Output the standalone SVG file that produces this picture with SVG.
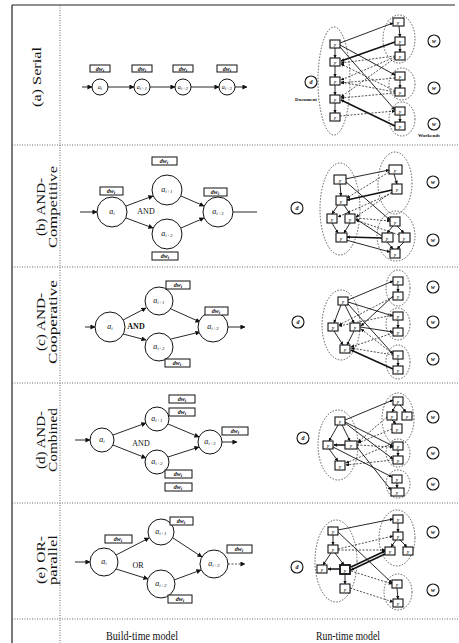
<svg xmlns="http://www.w3.org/2000/svg" width="459" height="643" viewBox="0 0 459 643">
<style>
text{font-family:"Liberation Serif","DejaVu Serif",serif;fill:#111}
.frame{stroke:#222;stroke-width:1.2;fill:none}
.sep{stroke:#444;stroke-width:0.8;stroke-dasharray:1 1.5;fill:none}
.rl{font-size:12px}
.ft{font-size:13px}
.n{fill:#fff;stroke:#111;stroke-width:1}
.dwb{fill:#fff;stroke:#111;stroke-width:1}
.dwt{font-size:6px;font-style:italic;font-weight:bold}
.cl{font-size:8px;font-style:italic}
.cls{font-size:6px;font-style:italic}
.sub{font-size:5px}
.gl{font-size:8px}
.c{stroke:#111;stroke-width:0.9;fill:none}
.cb{stroke:#111;stroke-width:1.5;fill:none}
.cd{stroke:#222;stroke-width:0.8;stroke-dasharray:2 1.5;fill:none}
.ell{fill:none;stroke:#333;stroke-width:0.8;stroke-dasharray:1.5 1.5}
.rb{fill:#fff;stroke:#111;stroke-width:1.1}
.rbb{fill:#fff;stroke:#111;stroke-width:1.8}
.yt{font-size:5px;font-style:italic;font-weight:bold}
.wc{fill:#fff;stroke:#111;stroke-width:1.1}
.wt{font-size:6px;font-style:italic;font-weight:bold}
.sm{font-size:5px;font-weight:bold}
</style>
<defs>
<marker id="ah" viewBox="0 0 6 6" refX="5.5" refY="3" markerWidth="5" markerHeight="5" orient="auto" markerUnits="userSpaceOnUse"><path d="M0,0 L6,3 L0,6 z" fill="#111"/></marker>
<marker id="as" viewBox="0 0 6 6" refX="5.5" refY="3" markerWidth="3.5" markerHeight="3.5" orient="auto" markerUnits="userSpaceOnUse"><path d="M0,0 L6,3 L0,6 z" fill="#111"/></marker>
</defs>
<rect x="0" y="0" width="459" height="643" fill="#fff"/>

<g id="frame">
<line class="frame" x1="12" y1="5" x2="12" y2="643"/>
<line class="frame" x1="12" y1="5" x2="455" y2="5"/>
<line class="sep" x1="60" y1="5" x2="60" y2="643"/>
<line class="sep" x1="12" y1="145" x2="459" y2="145"/>
<line class="sep" x1="12" y1="267" x2="459" y2="267"/>
<line class="sep" x1="12" y1="383" x2="459" y2="383"/>
<line class="sep" x1="12" y1="503" x2="459" y2="503"/>
<line class="sep" x1="12" y1="619" x2="459" y2="619"/>
</g>

<g id="row-labels">
<text class="rl" transform="translate(41,77) rotate(-90)" text-anchor="middle" textLength="60" lengthAdjust="spacingAndGlyphs">(a) Serial</text>
<text class="rl" transform="translate(45,207) rotate(-90)" text-anchor="middle" textLength="58" lengthAdjust="spacingAndGlyphs">(b) AND-</text>
<text class="rl" transform="translate(57,207) rotate(-90)" text-anchor="middle" textLength="82" lengthAdjust="spacingAndGlyphs">Competitive</text>
<text class="rl" transform="translate(45,322) rotate(-90)" text-anchor="middle" textLength="58" lengthAdjust="spacingAndGlyphs">(c) AND-</text>
<text class="rl" transform="translate(57,322) rotate(-90)" text-anchor="middle" textLength="84" lengthAdjust="spacingAndGlyphs">Cooperative</text>
<text class="rl" transform="translate(45,440) rotate(-90)" text-anchor="middle" textLength="58" lengthAdjust="spacingAndGlyphs">(d) AND-</text>
<text class="rl" transform="translate(57,440) rotate(-90)" text-anchor="middle" textLength="64" lengthAdjust="spacingAndGlyphs">Combined</text>
<text class="rl" transform="translate(45,560) rotate(-90)" text-anchor="middle" textLength="48" lengthAdjust="spacingAndGlyphs">(e) OR-</text>
<text class="rl" transform="translate(57,560) rotate(-90)" text-anchor="middle" textLength="50" lengthAdjust="spacingAndGlyphs">parallel</text>
</g>

<g id="footer">
<text class="ft" x="142" y="640" text-anchor="middle" textLength="72" lengthAdjust="spacingAndGlyphs">Build-time model</text>
<text class="ft" x="348" y="640" text-anchor="middle" textLength="64" lengthAdjust="spacingAndGlyphs">Run-time model</text>
</g>

<g id="connectors">
<!-- row a build -->
<line class="c" x1="82" y1="87" x2="92" y2="87" marker-end="url(#ah)"/>
<line class="c" x1="108" y1="87" x2="134" y2="87" marker-end="url(#ah)"/>
<line class="c" x1="150" y1="87" x2="175" y2="87" marker-end="url(#ah)"/>
<line class="c" x1="191" y1="87" x2="219" y2="87" marker-end="url(#ah)"/>
<line class="c" x1="235" y1="87" x2="247" y2="87" marker-end="url(#ah)"/>
<!-- row b build -->
<line class="c" x1="80" y1="212" x2="97" y2="212" marker-end="url(#ah)"/>
<line class="c" x1="126" y1="206" x2="153" y2="196" marker-end="url(#ah)"/>
<line class="c" x1="126" y1="218" x2="153" y2="228" marker-end="url(#ah)"/>
<line class="c" x1="181" y1="196" x2="204" y2="206" marker-end="url(#ah)"/>
<line class="c" x1="181" y1="228" x2="204" y2="218" marker-end="url(#ah)"/>
<line class="c" x1="233" y1="212" x2="257" y2="212"/>
<!-- row c build -->
<line class="c" x1="85" y1="327" x2="95" y2="327" marker-end="url(#ah)"/>
<line class="c" x1="123" y1="320" x2="146" y2="308" marker-end="url(#ah)"/>
<line class="c" x1="123" y1="334" x2="146" y2="340" marker-end="url(#ah)"/>
<line class="c" x1="171" y1="309" x2="200" y2="322" marker-end="url(#ah)"/>
<line class="c" x1="171" y1="339" x2="200" y2="332" marker-end="url(#ah)"/>
<line class="c" x1="228" y1="327" x2="245" y2="327" marker-end="url(#ah)"/>
<!-- row d build -->
<line class="c" x1="75" y1="440" x2="90" y2="440" marker-end="url(#ah)"/>
<line class="c" x1="113" y1="435" x2="146" y2="423" marker-end="url(#ah)"/>
<line class="c" x1="113" y1="445" x2="146" y2="458" marker-end="url(#ah)"/>
<line class="c" x1="168" y1="424" x2="199" y2="437" marker-end="url(#ah)"/>
<line class="c" x1="168" y1="457" x2="199" y2="447" marker-end="url(#ah)"/>
<line class="c" x1="222" y1="442" x2="237" y2="442" marker-end="url(#ah)"/>
<!-- row e build -->
<line class="c" x1="75" y1="562" x2="90" y2="562" marker-end="url(#ah)"/>
<line class="c" x1="116" y1="555" x2="149" y2="538" marker-end="url(#ah)"/>
<line class="c" x1="116" y1="569" x2="148" y2="579" marker-end="url(#ah)"/>
<line class="c" x1="173" y1="538" x2="202" y2="557" marker-end="url(#ah)"/>
<line class="c" x1="174" y1="580" x2="201" y2="570" marker-end="url(#ah)"/>
<line class="cd" x1="228" y1="564" x2="245" y2="564" marker-end="url(#ah)"/>

<!-- row a runtime -->
<line class="c" x1="335" y1="48" x2="335" y2="58" marker-end="url(#as)"/>
<line class="c" x1="335" y1="66" x2="335" y2="77" marker-end="url(#as)"/>
<line class="c" x1="335" y1="85" x2="335" y2="95" marker-end="url(#as)"/>
<line class="c" x1="335" y1="103" x2="335" y2="113" marker-end="url(#as)"/>
<line class="c" x1="399" y1="26" x2="400" y2="37" marker-end="url(#as)"/>
<line class="c" x1="400" y1="45" x2="400" y2="52" marker-end="url(#as)"/>
<line class="c" x1="400" y1="80" x2="400" y2="88" marker-end="url(#as)"/>
<line class="c" x1="400" y1="115" x2="400" y2="122" marker-end="url(#as)"/>
<line class="c" x1="340" y1="43" x2="393" y2="23" marker-end="url(#as)"/>
<line class="c" x1="340" y1="45" x2="395" y2="75" marker-end="url(#as)"/>
<line class="c" x1="340" y1="47" x2="395" y2="110" marker-end="url(#as)"/>
<line class="cb" x1="395" y1="42" x2="341" y2="61" marker-end="url(#as)"/>
<line class="cb" x1="395" y1="126" x2="341" y2="100" marker-end="url(#as)"/>
<line class="cd" x1="395" y1="56" x2="341" y2="63" marker-end="url(#as)"/>
<line class="cd" x1="395" y1="57" x2="341" y2="80" marker-end="url(#as)"/>
<line class="cd" x1="395" y1="58" x2="341" y2="97" marker-end="url(#as)"/>
<line class="cd" x1="395" y1="92" x2="341" y2="82" marker-end="url(#as)"/>
<line class="cd" x1="395" y1="93" x2="341" y2="98" marker-end="url(#as)"/>
<line class="cd" x1="395" y1="91" x2="341" y2="64" marker-end="url(#as)"/>
<line class="cd" x1="340" y1="116" x2="395" y2="111" marker-end="url(#as)"/>
<line class="cd" x1="395" y1="78" x2="341" y2="83" marker-end="url(#as)"/>

<!-- row b runtime -->
<line class="c" x1="340" y1="184" x2="341" y2="196" marker-end="url(#as)"/>
<line class="c" x1="338" y1="205" x2="332" y2="214" marker-end="url(#as)"/>
<line class="c" x1="344" y1="205" x2="350" y2="214" marker-end="url(#as)"/>
<line class="c" x1="332" y1="223" x2="338" y2="233" marker-end="url(#as)"/>
<line class="c" x1="350" y1="223" x2="344" y2="233" marker-end="url(#as)"/>
<line class="c" x1="394" y1="174" x2="397" y2="184" marker-end="url(#as)"/>
<line class="c" x1="393" y1="226" x2="387" y2="233" marker-end="url(#as)"/>
<line class="c" x1="397" y1="226" x2="404" y2="233" marker-end="url(#as)"/>
<line class="c" x1="387" y1="242" x2="393" y2="249" marker-end="url(#as)"/>
<line class="c" x1="404" y1="242" x2="397" y2="249" marker-end="url(#as)"/>
<line class="c" x1="345" y1="179" x2="389" y2="170" marker-end="url(#as)"/>
<line class="cb" x1="392" y1="190" x2="347" y2="200" marker-end="url(#as)"/>
<line class="c" x1="345" y1="181" x2="390" y2="220" marker-end="url(#as)"/>
<line class="cb" x1="382" y1="238" x2="347" y2="237" marker-end="url(#as)"/>
<line class="c" x1="346" y1="240" x2="390" y2="252" marker-end="url(#as)"/>
<line class="c" x1="382" y1="236" x2="356" y2="219" marker-end="url(#as)"/>
<line class="cd" x1="392" y1="192" x2="356" y2="217" marker-end="url(#as)"/>
<line class="cd" x1="392" y1="193" x2="338" y2="217" marker-end="url(#as)"/>
<line class="cd" x1="356" y1="218" x2="390" y2="221" marker-end="url(#as)"/>
<line class="cd" x1="399" y1="235" x2="356" y2="220" marker-end="url(#as)"/>
<line class="cd" x1="389" y1="172" x2="347" y2="198" marker-end="url(#as)"/>

<!-- row c runtime -->
<line class="c" x1="341" y1="305" x2="334" y2="323" marker-end="url(#as)"/>
<line class="c" x1="345" y1="305" x2="354" y2="323" marker-end="url(#as)"/>
<line class="c" x1="334" y1="331" x2="343" y2="345" marker-end="url(#as)"/>
<line class="c" x1="354" y1="331" x2="347" y2="345" marker-end="url(#as)"/>
<line class="c" x1="398" y1="285" x2="398" y2="292" marker-end="url(#as)"/>
<line class="c" x1="398" y1="320" x2="398" y2="328" marker-end="url(#as)"/>
<line class="c" x1="398" y1="359" x2="398" y2="366" marker-end="url(#as)"/>
<line class="c" x1="348" y1="300" x2="393" y2="281" marker-end="url(#as)"/>
<line class="c" x1="348" y1="302" x2="393" y2="316" marker-end="url(#as)"/>
<line class="c" x1="348" y1="304" x2="393" y2="354" marker-end="url(#as)"/>
<line class="cb" x1="393" y1="369" x2="351" y2="350" marker-end="url(#as)"/>
<line class="c" x1="393" y1="296" x2="361" y2="326" marker-end="url(#as)"/>
<line class="c" x1="360" y1="327" x2="393" y2="332" marker-end="url(#as)"/>
<line class="cd" x1="393" y1="315" x2="339" y2="326" marker-end="url(#as)"/>
<line class="cd" x1="393" y1="354" x2="361" y2="329" marker-end="url(#as)"/>
<line class="cd" x1="393" y1="297" x2="339" y2="325" marker-end="url(#as)"/>
<line class="cd" x1="393" y1="355" x2="351" y2="348" marker-end="url(#as)"/>
<line class="cd" x1="393" y1="333" x2="351" y2="347" marker-end="url(#as)"/>

<!-- row d runtime -->
<line class="c" x1="338" y1="425" x2="329" y2="441" marker-end="url(#as)"/>
<line class="c" x1="342" y1="425" x2="350" y2="441" marker-end="url(#as)"/>
<line class="cb" x1="345" y1="445" x2="334" y2="445" marker-end="url(#as)"/>
<line class="c" x1="329" y1="449" x2="338" y2="461" marker-end="url(#as)"/>
<line class="c" x1="396" y1="405" x2="392" y2="412" marker-end="url(#as)"/>
<line class="c" x1="400" y1="405" x2="406" y2="412" marker-end="url(#as)"/>
<line class="c" x1="392" y1="420" x2="396" y2="424" marker-end="url(#as)"/>
<line class="c" x1="398" y1="450" x2="398" y2="456" marker-end="url(#as)"/>
<line class="c" x1="397" y1="483" x2="397" y2="488" marker-end="url(#as)"/>
<line class="c" x1="345" y1="420" x2="393" y2="400" marker-end="url(#as)"/>
<line class="c" x1="345" y1="422" x2="393" y2="446" marker-end="url(#as)"/>
<line class="c" x1="345" y1="423" x2="393" y2="459" marker-end="url(#as)"/>
<line class="c" x1="333" y1="447" x2="392" y2="477" marker-end="url(#as)"/>
<line class="c" x1="357" y1="447" x2="391" y2="490" marker-end="url(#as)"/>
<line class="cd" x1="392" y1="429" x2="358" y2="443" marker-end="url(#as)"/>
<line class="cd" x1="387" y1="417" x2="358" y2="442" marker-end="url(#as)"/>
<line class="cd" x1="393" y1="460" x2="346" y2="465" marker-end="url(#as)"/>
<line class="cd" x1="357" y1="445" x2="393" y2="447" marker-end="url(#as)"/>
<line class="cd" x1="393" y1="443" x2="346" y2="463" marker-end="url(#as)"/>

<!-- row e runtime -->
<line class="c" x1="333" y1="535" x2="333" y2="545" marker-end="url(#as)"/>
<line class="c" x1="331" y1="553" x2="323" y2="565" marker-end="url(#as)"/>
<line class="c" x1="335" y1="553" x2="344" y2="565" marker-end="url(#as)"/>
<line class="cb" x1="340" y1="569" x2="328" y2="569" marker-end="url(#as)"/>
<line class="c" x1="345" y1="574" x2="345" y2="584" marker-end="url(#as)"/>
<line class="c" x1="398" y1="523" x2="398" y2="532" marker-end="url(#as)"/>
<line class="c" x1="396" y1="540" x2="391" y2="547" marker-end="url(#as)"/>
<line class="c" x1="400" y1="540" x2="407" y2="547" marker-end="url(#as)"/>
<line class="c" x1="397" y1="588" x2="398" y2="599" marker-end="url(#as)"/>
<line class="c" x1="338" y1="530" x2="393" y2="519" marker-end="url(#as)"/>
<line class="c" x1="338" y1="532" x2="392" y2="583" marker-end="url(#as)"/>
<line class="cb" x1="351" y1="567" x2="385" y2="551" marker-end="url(#as)"/>
<line class="cb" x1="385" y1="554" x2="351" y2="570" marker-end="url(#as)"/>
<line class="cd" x1="338" y1="549" x2="393" y2="536" marker-end="url(#as)"/>
<line class="cd" x1="351" y1="571" x2="392" y2="584" marker-end="url(#as)"/>
<line class="cd" x1="350" y1="588" x2="393" y2="602" marker-end="url(#as)"/>
<line class="cd" x1="338" y1="550" x2="385" y2="550" marker-end="url(#as)"/>
</g>

<!-- ===== row a build ===== -->
<g id="a-n1"><rect class="dwb" x="90" y="65" width="20" height="7"/><text class="dwt" x="100" y="70.5" text-anchor="middle">dw<tspan class="sub" dy="1">i</tspan></text><circle class="n" cx="100" cy="87" r="8"/><text class="cls" x="100" y="89" text-anchor="middle">a<tspan class="sub" dy="1">i</tspan></text></g>
<g id="a-n2"><rect class="dwb" x="132" y="65" width="20" height="7"/><text class="dwt" x="142" y="70.5" text-anchor="middle">dw<tspan class="sub" dy="1">i</tspan></text><circle class="n" cx="142" cy="87" r="8"/><text class="cls" x="142" y="89" text-anchor="middle">a<tspan class="sub" dy="1">i+1</tspan></text></g>
<g id="a-n3"><rect class="dwb" x="173" y="65" width="20" height="7"/><text class="dwt" x="183" y="70.5" text-anchor="middle">dw<tspan class="sub" dy="1">i</tspan></text><circle class="n" cx="183" cy="87" r="8"/><text class="cls" x="183" y="89" text-anchor="middle">a<tspan class="sub" dy="1">i+2</tspan></text></g>
<g id="a-n4"><rect class="dwb" x="217" y="65" width="20" height="7"/><text class="dwt" x="227" y="70.5" text-anchor="middle">dw<tspan class="sub" dy="1">i</tspan></text><circle class="n" cx="227" cy="87" r="8"/><text class="cls" x="227" y="89" text-anchor="middle">a<tspan class="sub" dy="1">i+3</tspan></text></g>

<!-- ===== row b build ===== -->
<g id="b-n1"><rect class="dwb" x="100" y="187" width="23" height="8"/><text class="dwt" x="111" y="193" text-anchor="middle">dw<tspan class="sub" dy="1">i</tspan></text><circle class="n" cx="112" cy="212" r="15"/><text class="cl" x="112" y="214" text-anchor="middle">a<tspan class="sub" dy="1">i</tspan></text></g>
<g id="b-n2"><rect class="dwb" x="152" y="157" width="25" height="8"/><text class="dwt" x="164" y="163" text-anchor="middle">dw<tspan class="sub" dy="1">i</tspan></text><circle class="n" cx="167" cy="190" r="15"/><text class="cl" x="167" y="192" text-anchor="middle">a<tspan class="sub" dy="1">i+1</tspan></text></g>
<g id="b-n3"><rect class="dwb" x="152" y="252" width="26" height="8"/><text class="dwt" x="165" y="258" text-anchor="middle">dw<tspan class="sub" dy="1">i</tspan></text><circle class="n" cx="167" cy="234" r="15"/><text class="cl" x="167" y="236" text-anchor="middle">a<tspan class="sub" dy="1">i+2</tspan></text></g>
<g id="b-n4"><rect class="dwb" x="204" y="188" width="23" height="8"/><text class="dwt" x="215" y="194" text-anchor="middle">dw<tspan class="sub" dy="1">i</tspan></text><circle class="n" cx="218" cy="212" r="15"/><text class="cl" x="218" y="214" text-anchor="middle">a<tspan class="sub" dy="1">i+3</tspan></text></g>
<g id="b-and"><text class="gl" x="146" y="214" text-anchor="middle">AND</text></g>

<!-- ===== row c build ===== -->
<g id="c-n1"><circle class="n" cx="110" cy="327" r="15"/><text class="cl" x="110" y="329" text-anchor="middle">a<tspan class="sub" dy="1">i</tspan></text></g>
<g id="c-n2"><circle class="n" cx="159" cy="301" r="14"/><rect class="dwb" x="166" y="281" width="24" height="8"/><text class="dwt" x="178" y="287" text-anchor="middle">dw<tspan class="sub" dy="1">i</tspan></text><text class="cl" x="159" y="303" text-anchor="middle">a<tspan class="sub" dy="1">i+1</tspan></text></g>
<g id="c-n3"><circle class="n" cx="159" cy="347" r="14"/><rect class="dwb" x="165" y="359" width="25" height="8"/><text class="dwt" x="177" y="365" text-anchor="middle">dw<tspan class="sub" dy="1">i</tspan></text><text class="cl" x="159" y="349" text-anchor="middle">a<tspan class="sub" dy="1">i+2</tspan></text></g>
<g id="c-n4"><circle class="n" cx="213" cy="327" r="15"/><rect class="dwb" x="205" y="307" width="23" height="8"/><text class="dwt" x="216" y="313" text-anchor="middle">dw<tspan class="sub" dy="1">i</tspan></text><text class="cl" x="213" y="329" text-anchor="middle">a<tspan class="sub" dy="1">i+3</tspan></text></g>
<g id="c-and"><text class="gl" x="136" y="329" text-anchor="middle" font-weight="bold">AND</text></g>

<!-- ===== row d build ===== -->
<g id="d-n1"><circle class="n" cx="102" cy="440" r="12"/><text class="cl" x="102" y="442" text-anchor="middle">a<tspan class="sub" dy="1">i</tspan></text></g>
<g id="d-n2"><circle class="n" cx="157" cy="419" r="12"/><rect class="dwb" x="169" y="395" width="26" height="8"/><text class="dwt" x="182" y="401" text-anchor="middle">dw<tspan class="sub" dy="1">i</tspan></text><rect class="dwb" x="169" y="408" width="26" height="8"/><text class="dwt" x="182" y="414" text-anchor="middle">dw<tspan class="sub" dy="1">i</tspan></text><text class="cl" x="157" y="421" text-anchor="middle">a<tspan class="sub" dy="1">i+1</tspan></text></g>
<g id="d-n3"><circle class="n" cx="157" cy="462" r="12"/><rect class="dwb" x="165" y="470" width="27" height="8"/><text class="dwt" x="178" y="476" text-anchor="middle">dw<tspan class="sub" dy="1">i</tspan></text><rect class="dwb" x="165" y="483" width="27" height="8"/><text class="dwt" x="178" y="489" text-anchor="middle">dw<tspan class="sub" dy="1">i</tspan></text><text class="cl" x="157" y="464" text-anchor="middle">a<tspan class="sub" dy="1">i+2</tspan></text></g>
<g id="d-n4"><circle class="n" cx="210" cy="442" r="12"/><rect class="dwb" x="222" y="427" width="26" height="8"/><text class="dwt" x="235" y="433" text-anchor="middle">dw<tspan class="sub" dy="1">i</tspan></text><text class="cl" x="210" y="444" text-anchor="middle">a<tspan class="sub" dy="1">i+3</tspan></text></g>
<g id="d-and"><text class="gl" x="141" y="446" text-anchor="middle">AND</text></g>

<!-- ===== row e build ===== -->
<g id="e-n1"><rect class="dwb" x="105" y="535" width="27" height="8"/><text class="dwt" x="118" y="541" text-anchor="middle">dw<tspan class="sub" dy="1">i</tspan></text><circle class="n" cx="104" cy="562" r="14"/><text class="cl" x="104" y="564" text-anchor="middle">a<tspan class="sub" dy="1">i</tspan></text></g>
<g id="e-n2"><circle class="n" cx="161" cy="532" r="13"/><rect class="dwb" x="170" y="517" width="23" height="8"/><text class="dwt" x="181" y="523" text-anchor="middle">dw<tspan class="sub" dy="1">i</tspan></text><text class="cl" x="161" y="534" text-anchor="middle">a<tspan class="sub" dy="1">i+1</tspan></text></g>
<g id="e-n3"><circle class="n" cx="161" cy="584" r="14"/><rect class="dwb" x="168" y="595" width="24" height="8"/><text class="dwt" x="180" y="601" text-anchor="middle">dw<tspan class="sub" dy="1">i</tspan></text><text class="cl" x="161" y="586" text-anchor="middle">a<tspan class="sub" dy="1">i+2</tspan></text></g>
<g id="e-n4"><circle class="n" cx="214" cy="564" r="14"/><rect class="dwb" x="227" y="545" width="25" height="8"/><text class="dwt" x="239" y="551" text-anchor="middle">dw<tspan class="sub" dy="1">i</tspan></text><text class="cl" x="214" y="566" text-anchor="middle">a<tspan class="sub" dy="1">i+3</tspan></text></g>
<g id="e-or"><text class="gl" x="138" y="568" text-anchor="middle">OR</text></g>

<!-- ===== row a runtime ===== -->
<g id="ra-d"><circle class="wc" cx="311" cy="82" r="6"/><text class="wt" x="311" y="84" text-anchor="middle">d</text><text class="sm" x="306" y="101" text-anchor="middle">Document</text></g>
<g id="ra-left"><ellipse class="ell" cx="334" cy="81" rx="16" ry="54"/>
<rect class="rb" x="330" y="40" width="10" height="8"/><text class="yt" x="335" y="46" text-anchor="middle">y</text>
<rect class="rb" x="330" y="58" width="10" height="8"/><text class="yt" x="335" y="64" text-anchor="middle">y</text>
<rect class="rb" x="330" y="77" width="10" height="8"/><text class="yt" x="335" y="83" text-anchor="middle">y</text>
<rect class="rb" x="330" y="95" width="10" height="8"/><text class="yt" x="335" y="101" text-anchor="middle">y</text>
<rect class="rb" x="330" y="113" width="10" height="8"/><text class="yt" x="335" y="119" text-anchor="middle">y</text></g>
<g id="ra-g1"><ellipse class="ell" cx="399" cy="39" rx="16" ry="24"/>
<rect class="rb" x="393" y="18" width="11" height="8"/><text class="yt" x="398" y="24" text-anchor="middle">y</text>
<rect class="rb" x="395" y="37" width="10" height="8"/><text class="yt" x="400" y="43" text-anchor="middle">y</text>
<rect class="rb" x="395" y="52" width="10" height="8"/><text class="yt" x="400" y="58" text-anchor="middle">y</text></g>
<g id="ra-g2"><ellipse class="ell" cx="402" cy="84" rx="13" ry="16"/>
<rect class="rb" x="395" y="72" width="10" height="8"/><text class="yt" x="400" y="78" text-anchor="middle">y</text>
<rect class="rb" x="395" y="88" width="10" height="8"/><text class="yt" x="400" y="94" text-anchor="middle">y</text></g>
<g id="ra-g3"><ellipse class="ell" cx="402" cy="119" rx="13" ry="17"/>
<rect class="rb" x="395" y="107" width="10" height="8"/><text class="yt" x="400" y="113" text-anchor="middle">y</text>
<rect class="rb" x="395" y="122" width="10" height="8"/><text class="yt" x="400" y="128" text-anchor="middle">y</text></g>
<g id="ra-w"><circle class="wc" cx="434" cy="41" r="6"/><text class="wt" x="434" y="43" text-anchor="middle">w</text>
<circle class="wc" cx="434" cy="88" r="6"/><text class="wt" x="434" y="90" text-anchor="middle">w</text>
<circle class="wc" cx="434" cy="124" r="6"/><text class="wt" x="434" y="126" text-anchor="middle">w</text>
<text class="sm" x="429" y="137" text-anchor="middle">Workends</text></g>

<!-- ===== row b runtime ===== -->
<g id="rb-d"><circle class="wc" cx="297" cy="208" r="6"/><text class="wt" x="297" y="210" text-anchor="middle">d</text></g>
<g id="rb-left"><ellipse class="ell" cx="340" cy="209" rx="20" ry="46"/>
<rect class="rb" x="334" y="175" width="12" height="9"/><text class="yt" x="340" y="181.5" text-anchor="middle">y</text>
<rect class="rb" x="336" y="196" width="11" height="9"/><text class="yt" x="341" y="202.5" text-anchor="middle">y</text>
<rect class="rb" x="327" y="214" width="10" height="9"/><text class="yt" x="332" y="220.5" text-anchor="middle">y</text>
<rect class="rb" x="345" y="214" width="10" height="9"/><text class="yt" x="350" y="220.5" text-anchor="middle">y</text>
<rect class="rb" x="336" y="233" width="11" height="9"/><text class="yt" x="341" y="239.5" text-anchor="middle">y</text></g>
<g id="rb-g1"><ellipse class="ell" cx="395" cy="183" rx="17" ry="31"/>
<rect class="rb" x="389" y="165" width="13" height="9"/><text class="yt" x="395" y="171.5" text-anchor="middle">y</text>
<rect class="rb" x="392" y="184" width="10" height="10"/><text class="yt" x="397" y="191" text-anchor="middle">y</text></g>
<g id="rb-g2"><ellipse class="ell" cx="396" cy="236" rx="19" ry="25"/>
<rect class="rb" x="390" y="217" width="10" height="9"/><text class="yt" x="395" y="223.5" text-anchor="middle">y</text>
<rect class="rb" x="382" y="233" width="11" height="9"/><text class="yt" x="387" y="239.5" text-anchor="middle">y</text>
<rect class="rb" x="399" y="233" width="11" height="9"/><text class="yt" x="404" y="239.5" text-anchor="middle">y</text>
<rect class="rb" x="390" y="249" width="10" height="9"/><text class="yt" x="395" y="255.5" text-anchor="middle">y</text></g>
<g id="rb-w"><circle class="wc" cx="433" cy="182" r="6"/><text class="wt" x="433" y="184" text-anchor="middle">w</text>
<circle class="wc" cx="433" cy="240" r="6"/><text class="wt" x="433" y="242" text-anchor="middle">w</text></g>

<!-- ===== row c runtime ===== -->
<g id="rc-d"><circle class="wc" cx="298" cy="322" r="6"/><text class="wt" x="298" y="324" text-anchor="middle">d</text></g>
<g id="rc-left"><ellipse class="ell" cx="341" cy="325" rx="19" ry="35"/>
<rect class="rb" x="338" y="297" width="10" height="8"/><text class="yt" x="343" y="303" text-anchor="middle">y</text>
<rect class="rb" x="328" y="323" width="10" height="8"/><text class="yt" x="333" y="329" text-anchor="middle">y</text>
<rect class="rb" x="350" y="323" width="10" height="8"/><text class="yt" x="355" y="329" text-anchor="middle">y</text>
<rect class="rb" x="340" y="345" width="10" height="8"/><text class="yt" x="345" y="351" text-anchor="middle">y</text></g>
<g id="rc-g1"><ellipse class="ell" cx="398" cy="288" rx="12" ry="18"/>
<rect class="rb" x="393" y="277" width="10" height="8"/><text class="yt" x="398" y="283" text-anchor="middle">y</text>
<rect class="rb" x="393" y="292" width="10" height="8"/><text class="yt" x="398" y="298" text-anchor="middle">y</text></g>
<g id="rc-g2"><ellipse class="ell" cx="398" cy="324" rx="12" ry="16"/>
<rect class="rb" x="393" y="312" width="10" height="8"/><text class="yt" x="398" y="318" text-anchor="middle">y</text>
<rect class="rb" x="393" y="328" width="10" height="8"/><text class="yt" x="398" y="334" text-anchor="middle">y</text></g>
<g id="rc-g3"><ellipse class="ell" cx="398" cy="362" rx="12" ry="17"/>
<rect class="rb" x="393" y="351" width="10" height="8"/><text class="yt" x="398" y="357" text-anchor="middle">y</text>
<rect class="rb" x="393" y="366" width="10" height="8"/><text class="yt" x="398" y="372" text-anchor="middle">y</text></g>
<g id="rc-w"><circle class="wc" cx="433" cy="287" r="6"/><text class="wt" x="433" y="289" text-anchor="middle">w</text>
<circle class="wc" cx="433" cy="322" r="6"/><text class="wt" x="433" y="324" text-anchor="middle">w</text>
<circle class="wc" cx="433" cy="359" r="6"/><text class="wt" x="433" y="361" text-anchor="middle">w</text></g>

<!-- ===== row d runtime ===== -->
<g id="rd-d"><circle class="wc" cx="303" cy="438" r="6"/><text class="wt" x="303" y="440" text-anchor="middle">d</text></g>
<g id="rd-left"><ellipse class="ell" cx="338" cy="445" rx="20" ry="35"/>
<rect class="rb" x="335" y="417" width="10" height="8"/><text class="yt" x="340" y="423" text-anchor="middle">y</text>
<rect class="rb" x="323" y="441" width="10" height="8"/><text class="yt" x="328" y="447" text-anchor="middle">y</text>
<rect class="rb" x="345" y="441" width="12" height="8"/><text class="yt" x="351" y="447" text-anchor="middle">y</text>
<rect class="rb" x="335" y="461" width="10" height="9"/><text class="yt" x="340" y="467.5" text-anchor="middle">y</text></g>
<g id="rd-g1"><ellipse class="ell" cx="398" cy="419" rx="16" ry="26"/>
<rect class="rb" x="393" y="397" width="10" height="8"/><text class="yt" x="398" y="403" text-anchor="middle">y</text>
<rect class="rb" x="387" y="412" width="10" height="8"/><text class="yt" x="392" y="418" text-anchor="middle">y</text>
<rect class="rb" x="402" y="412" width="10" height="8"/><text class="yt" x="407" y="418" text-anchor="middle">y</text>
<rect class="rb" x="392" y="424" width="10" height="9"/><text class="yt" x="397" y="430.5" text-anchor="middle">y</text></g>
<g id="rd-g2"><ellipse class="ell" cx="398" cy="453" rx="12" ry="14"/>
<rect class="rb" x="393" y="442" width="10" height="8"/><text class="yt" x="398" y="448" text-anchor="middle">y</text>
<rect class="rb" x="393" y="456" width="10" height="8"/><text class="yt" x="398" y="462" text-anchor="middle">y</text></g>
<g id="rd-g3"><ellipse class="ell" cx="398" cy="484" rx="12" ry="14"/>
<rect class="rb" x="392" y="475" width="10" height="8"/><text class="yt" x="397" y="481" text-anchor="middle">y</text>
<rect class="rb" x="391" y="488" width="13" height="8"/><text class="yt" x="397" y="494" text-anchor="middle">y</text></g>
<g id="rd-w"><circle class="wc" cx="433" cy="417" r="6"/><text class="wt" x="433" y="419" text-anchor="middle">w</text>
<circle class="wc" cx="433" cy="453" r="6"/><text class="wt" x="433" y="455" text-anchor="middle">w</text>
<circle class="wc" cx="433" cy="484" r="6"/><text class="wt" x="433" y="486" text-anchor="middle">w</text></g>

<!-- ===== row e runtime ===== -->
<g id="re-d"><circle class="wc" cx="297" cy="567" r="6"/><text class="wt" x="297" y="569" text-anchor="middle">d</text></g>
<g id="re-left"><ellipse class="ell" cx="336" cy="561" rx="21" ry="41"/>
<rect class="rb" x="328" y="527" width="10" height="8"/><text class="yt" x="333" y="533" text-anchor="middle">y</text>
<rect class="rb" x="328" y="545" width="10" height="8"/><text class="yt" x="333" y="551" text-anchor="middle">y</text>
<rect class="rb" x="317" y="565" width="10" height="8"/><text class="yt" x="322" y="571" text-anchor="middle">y</text>
<rect class="rbb" x="340" y="565" width="10" height="9"/><text class="yt" x="345" y="571.5" text-anchor="middle">y</text>
<rect class="rb" x="340" y="584" width="10" height="9"/><text class="yt" x="345" y="590.5" text-anchor="middle">y</text></g>
<g id="re-g1"><ellipse class="ell" cx="397" cy="538" rx="18" ry="28"/>
<rect class="rb" x="393" y="515" width="10" height="8"/><text class="yt" x="398" y="521" text-anchor="middle">y</text>
<rect class="rb" x="393" y="532" width="10" height="8"/><text class="yt" x="398" y="538" text-anchor="middle">y</text>
<rect class="rb" x="385" y="547" width="10" height="8"/><text class="yt" x="390" y="553" text-anchor="middle">y</text>
<rect class="rb" x="403" y="547" width="10" height="8"/><text class="yt" x="408" y="553" text-anchor="middle">y</text></g>
<g id="re-g2"><ellipse class="ell" cx="398" cy="592" rx="14" ry="18"/>
<rect class="rb" x="392" y="580" width="10" height="8"/><text class="yt" x="397" y="586" text-anchor="middle">y</text>
<rect class="rb" x="393" y="599" width="10" height="8"/><text class="yt" x="398" y="605" text-anchor="middle">y</text></g>
<g id="re-w"><circle class="wc" cx="433" cy="532" r="6"/><text class="wt" x="433" y="534" text-anchor="middle">w</text>
<circle class="wc" cx="433" cy="590" r="6"/><text class="wt" x="433" y="592" text-anchor="middle">w</text></g>
</svg>
